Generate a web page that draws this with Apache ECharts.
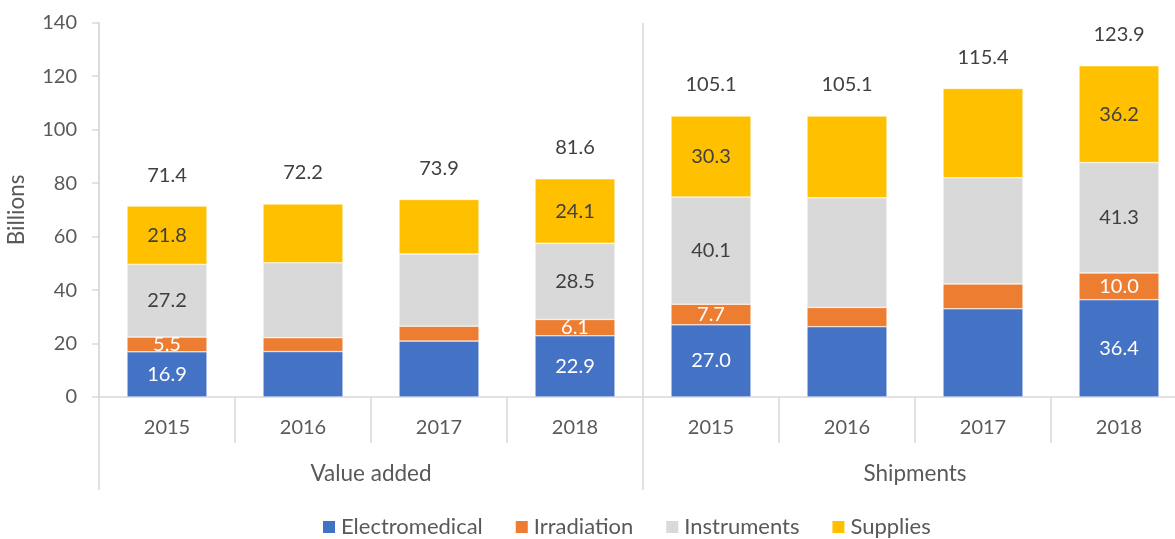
<!DOCTYPE html>
<html>
<head>
<meta charset="utf-8">
<script src="https://cdn.jsdelivr.net/npm/echarts@6/dist/echarts.min.js"></script>
<style>
    html, body { margin: 0; padding: 0; background: #fff; }
    #chart { width: 1175px; height: 539px; }
</style>
</head>
<body>
<div id="chart"></div>
<script>
'use strict';
// 数据
var years = ['2015', '2016', '2017', '2018', '2015', '2016', '2017', '2018'];
var groups = ['Value added', 'Shipments'];
var electromedical = [16.9, 17.0, 20.9, 22.9, 27.0, 26.3, 33.0, 36.4];
var irradiation = [5.5, 5.2, 5.6, 6.1, 7.7, 7.2, 9.3, 10.0];
var instruments = [27.2, 28.0, 27.0, 28.5, 40.1, 41.0, 39.7, 41.3];
var supplies = [21.8, 22.0, 20.4, 24.1, 30.3, 30.6, 33.4, 36.2];
var totals = [71.4, 72.2, 73.9, 81.6, 105.1, 105.1, 115.4, 123.9];
// 只有这些柱子显示分段数值
var labelled = [0, 3, 4, 7];

var font = 'Lato, "Noto Sans", sans-serif';
var numSize = 20;    // 数字
var wordSize = 22.5; // 文字
var axisColor = '#d9d9d9';
var textColor = '#595959';

var chart = echarts.init(document.getElementById('chart'));

function segment(name, values, color, labelColor) {
    return {
        name: name,
        type: 'bar',
        stack: 'total',
        barWidth: 80,
        itemStyle: { color: color, borderColor: '#ffffff', borderWidth: 0.5 },
        label: {
            show: false,
            position: 'inside',
            color: labelColor,
            fontFamily: font,
            fontSize: numSize,
            formatter: function (p) { return p.value.toFixed(1); }
        },
        data: values.map(function (v, i) {
            return { value: v, label: { show: labelled.indexOf(i) !== -1 } };
        })
    };
}

var option = {
    animation: false,
    grid: { left: 99, right: -12, top: 22.7, bottom: 142, outerBoundsMode: 'none' },
    legend: {
        data: ['Electromedical', 'Irradiation', 'Instruments', 'Supplies'],
        left: 321,
        top: 516,
        padding: 0,
        itemWidth: 14,
        itemHeight: 14,
        itemGap: 31,
        icon: 'rect',
        textStyle: { color: textColor, fontFamily: font, fontSize: 22 }
    },
    xAxis: [{
        type: 'category',
        data: years,
        axisLine: { lineStyle: { color: axisColor, width: 1.5 } },
        axisTick: { show: true, interval: 0, length: 46, lineStyle: { color: axisColor, width: 1.5 } },
        axisLabel: { color: textColor, fontFamily: font, fontSize: numSize, margin: 21, interval: 0 }
    }, {
        type: 'category',
        data: groups,
        position: 'bottom',
        axisLine: { show: false },
        axisTick: { show: true, interval: 0, length: 93, lineStyle: { color: axisColor, width: 1.5 } },
        splitLine: { show: true, interval: 0, lineStyle: { color: axisColor, width: 1.5 } },
        axisLabel: { color: textColor, fontFamily: font, fontSize: wordSize, margin: 65 }
    }],
    yAxis: {
        type: 'value',
        min: 0,
        max: 140,
        interval: 20,
        name: 'Billions',
        nameLocation: 'middle',
        nameGap: 71,
        nameMoveOverlap: false,
        nameTextStyle: { color: textColor, fontFamily: font, fontSize: wordSize },
        axisLine: { show: true, lineStyle: { color: axisColor, width: 1.5 } },
        axisTick: { show: true, length: 7, lineStyle: { color: axisColor, width: 1.5 } },
        axisLabel: { color: textColor, fontFamily: font, fontSize: numSize, margin: 22 },
        splitLine: { show: false }
    },
    series: [
        segment('Electromedical', electromedical, '#4472c4', '#ffffff'),
        segment('Irradiation', irradiation, '#ed7d31', '#ffffff'),
        segment('Instruments', instruments, '#d9d9d9', '#404040'),
        segment('Supplies', supplies, '#ffc000', '#404040'),
        {
            // 总数标签，用透明柱子叠在上面
            name: 'Total',
            type: 'bar',
            barWidth: 80,
            barGap: '-100%',
            z: 1,
            itemStyle: { color: 'rgba(0,0,0,0)' },
            label: {
                show: true,
                position: 'top',
                distance: 21,
                color: '#404040',
                fontFamily: font,
                fontSize: numSize,
                formatter: function (p) { return p.value.toFixed(1); }
            },
            data: totals
        }
    ]
};

chart.setOption(option);
</script>
</body>
</html>
